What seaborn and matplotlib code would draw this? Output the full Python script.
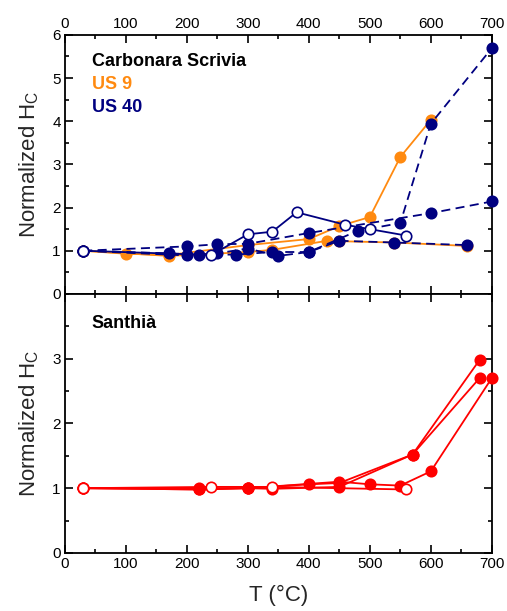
import matplotlib
matplotlib.use("Agg")
import matplotlib.pyplot as plt
from matplotlib.ticker import MultipleLocator
import pandas as pd
import seaborn as sns

# ---- Carbonara Scrivia, US 9 (orange, solid) ----
us9_a_T = [30, 100, 170, 300, 400, 450, 500, 550, 600]
us9_a_H = [1.00, 0.93, 0.90, 1.13, 1.27, 1.57, 1.78, 3.17, 4.03]
us9_b_T = [30, 170, 300, 340, 430, 450, 540, 660]
us9_b_H = [1.00, 0.88, 0.97, 1.02, 1.23, 1.22, 1.19, 1.11]

# ---- Carbonara Scrivia, US 40 (navy) ----
us40_open_T = [30, 240, 300, 340, 380, 460, 500, 560]
us40_open_H = [1.00, 0.90, 1.38, 1.44, 1.89, 1.60, 1.50, 1.35]
us40_a_T = [30, 200, 250, 300, 400, 600, 700]
us40_a_H = [1.00, 1.10, 1.15, 1.16, 1.41, 1.87, 2.14]
us40_b_T = [30, 170, 220, 280, 340, 400, 480, 550, 600, 700]
us40_b_H = [1.00, 0.94, 0.91, 0.91, 0.97, 0.97, 1.46, 1.64, 3.94, 5.69]
us40_c_T = [30, 200, 250, 300, 350, 400, 450, 540, 660]
us40_c_H = [1.00, 0.89, 0.94, 1.05, 0.88, 0.97, 1.23, 1.19, 1.13]

# ---- Santhià (red) ----
san_open_T = [30, 240, 340, 560]
san_open_H = [1.00, 1.02, 1.02, 0.98]
san_a_T = [30, 220, 300, 400, 450, 570, 680]
san_a_H = [1.00, 0.98, 1.00, 1.06, 1.08, 1.52, 2.98]
san_b_T = [30, 220, 300, 340, 450, 570, 680]
san_b_H = [1.00, 0.98, 1.00, 0.99, 1.02, 1.52, 2.70]
san_c_T = [30, 220, 300, 450, 500, 550, 600, 700]
san_c_H = [1.00, 1.00, 1.00, 1.10, 1.06, 1.04, 1.26, 2.70]

x_ticks = [0, 100, 200, 300, 400, 500, 600, 700]

ORANGE = "#FF8A10"
NAVY = "#000080"
RED = "#FF0000"

sns.set_style("ticks")
plt.rcParams["font.family"] = ["Liberation Sans", "DejaVu Sans"]

fig = plt.figure(figsize=(5.07, 6.11), dpi=100)
ax_top = fig.add_axes([0.128, 0.519, 0.842, 0.424])
ax_bot = fig.add_axes([0.128, 0.095, 0.842, 0.424])


def series(ax, T, H, color, filled=True, dashed=False):
    df = pd.DataFrame({"T": T, "H": H})
    sns.lineplot(
        data=df, x="T", y="H", ax=ax, sort=False, estimator=None,
        color=color, linewidth=1.3,
        marker="o", markersize=7.5,
        markerfacecolor=color if filled else "white",
        markeredgecolor=color, markeredgewidth=1.2,
        clip_on=False, zorder=3,
    )
    if dashed:
        ax.lines[-1].set_dashes((5, 3))


# top panel
series(ax_top, us9_a_T, us9_a_H, ORANGE)
series(ax_top, us9_b_T, us9_b_H, ORANGE)
series(ax_top, us40_c_T, us40_c_H, NAVY, dashed=True)
series(ax_top, us40_b_T, us40_b_H, NAVY, dashed=True)
series(ax_top, us40_a_T, us40_a_H, NAVY, dashed=True)
series(ax_top, us40_open_T, us40_open_H, NAVY, filled=False)

# bottom panel
series(ax_bot, san_a_T, san_a_H, RED)
series(ax_bot, san_b_T, san_b_H, RED)
series(ax_bot, san_c_T, san_c_H, RED)
series(ax_bot, san_open_T, san_open_H, RED, filled=False)

for ax in (ax_top, ax_bot):
    ax.set_xlim(0, 700)
    ax.set_xticks(x_ticks)
    ax.xaxis.set_minor_locator(MultipleLocator(50))
    ax.yaxis.set_minor_locator(MultipleLocator(0.5))
    ax.tick_params(which="both", direction="in", top=True, right=True,
                   width=1.2, labelsize=11, colors="black", pad=3)
    ax.tick_params(which="major", length=6)
    ax.tick_params(which="minor", length=3)
    for s in ax.spines.values():
        s.set_visible(True)
        s.set_linewidth(1.3)
        s.set_color("black")
    ax.set_xlabel("")
    ax.set_ylabel("Normalized H$_\\mathregular{C}$", fontsize=16, labelpad=8)

ax_top.set_ylim(0, 6)
ax_top.set_yticks(range(0, 7))
ax_top.tick_params(axis="x", labeltop=True, labelbottom=False)

ax_bot.set_ylim(0, 4)
ax_bot.set_yticks([0, 1, 2, 3])
ax_bot.set_xlabel("T (°C)", fontsize=16, labelpad=10)

ax_top.text(0.063, 0.898, "Carbonara Scrivia", transform=ax_top.transAxes,
            fontsize=13, fontweight="bold", color="black", va="center")
ax_top.text(0.063, 0.808, "US 9", transform=ax_top.transAxes,
            fontsize=13, fontweight="bold", color=ORANGE, va="center")
ax_top.text(0.063, 0.718, "US 40", transform=ax_top.transAxes,
            fontsize=13, fontweight="bold", color=NAVY, va="center")
ax_bot.text(0.063, 0.885, "Santhià", transform=ax_bot.transAxes,
            fontsize=13, fontweight="bold", color="black", va="center")

fig.savefig("out.png", dpi=100)
